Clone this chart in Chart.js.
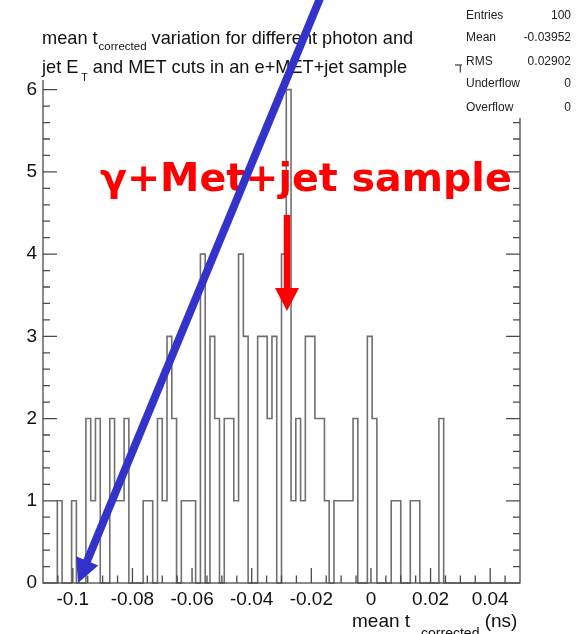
<!DOCTYPE html>
<html>
<head>
<meta charset="utf-8">
<script src="https://cdn.jsdelivr.net/npm/chart.js@4.4.1/dist/chart.umd.min.js"></script>
<style>
  html, body { margin: 0; padding: 0; background: #fff; }
  canvas { display: block; }
</style>
</head>
<body>
<canvas id="hist" width="578" height="634"></canvas>
<script>
// histogram binning (100 bins from -0.11 to 0.05)
const xMin = -0.11;
const xMax = 0.05;
const nBins = 100;

// entries per bin left to right
const counts = [
  0, 0, 0, 1, 0, 0, 1, 0, 0, 2,
  1, 2, 0, 0, 2, 1, 1, 2, 0, 0,
  0, 1, 1, 0, 2, 1, 3, 2, 0, 1,
  1, 1, 0, 4, 0, 3, 2, 0, 2, 2,
  1, 4, 3, 0, 0, 3, 3, 2, 3, 0,
  4, 6, 1, 2, 1, 3, 3, 2, 2, 1,
  0, 1, 1, 1, 1, 2, 0, 0, 3, 2,
  0, 0, 0, 1, 1, 0, 0, 1, 1, 0,
  0, 0, 0, 2, 0, 0, 0, 0, 0, 0,
  0, 0, 0, 0, 0, 0, 0, 0, 0, 0,
];

const xTickValues = [-0.1, -0.08, -0.06, -0.04, -0.02, 0, 0.02, 0.04];
const yTickValues = [0, 1, 2, 3, 4, 5, 6];
const yMax = 6.3;

const statLabels = ["Entries", "Mean", "RMS", "Underflow", "Overflow"];
const statValues = ["100", "-0.03952", "0.02902", "0", "0"];

const FONT = '"Liberation Sans", Arial, Helvetica, sans-serif';
const AXIS_COLOR = "#4a4a4a";

// step outline: start at the left edge on zero, one point per bin right edge
const binW = (xMax - xMin) / nBins;
const stepPoints = [{ x: xMin, y: 0 }];
counts.forEach((c, i) => stepPoints.push({ x: xMin + binW * (i + 1), y: c }));
stepPoints.push({ x: xMax, y: 0 });

// text with ROOT-like subscripts: parts = [[text, isSub], ...]
function drawRich(ctx, x, y, parts, size, subSize, subDrop, subGap) {
  parts.forEach(([txt, sub]) => {
    if (sub) x += subGap;
    ctx.font = (sub ? subSize : size) + "px " + FONT;
    ctx.fillText(txt, x, sub ? y + subDrop : y);
    x += ctx.measureText(txt).width;
  });
}

function drawArrow(ctx, x0, y0, x1, y1, w, headLen, headHalf, color) {
  const L = Math.hypot(x1 - x0, y1 - y0);
  const ux = (x1 - x0) / L, uy = (y1 - y0) / L;
  const bx = x1 - ux * headLen, by = y1 - uy * headLen;
  ctx.strokeStyle = color;
  ctx.lineWidth = w;
  ctx.lineCap = "butt";
  ctx.beginPath();
  ctx.moveTo(x0, y0);
  ctx.lineTo(bx + ux, by + uy);
  ctx.stroke();
  ctx.fillStyle = color;
  ctx.beginPath();
  ctx.moveTo(x1, y1);
  ctx.lineTo(bx - uy * headHalf, by + ux * headHalf);
  ctx.lineTo(bx + uy * headHalf, by - ux * headHalf);
  ctx.closePath();
  ctx.fill();
}

// frame with inward ticks on all four sides
const framePlugin = {
  id: "rootFrame",
  afterDatasetsDraw(chart) {
    const { ctx, chartArea: a, scales } = chart;
    const xs = scales.x, ys = scales.y;
    ctx.save();
    ctx.strokeStyle = AXIS_COLOR;
    ctx.lineWidth = 1.3;
    ctx.strokeRect(a.left, a.top, a.right - a.left, a.bottom - a.top);
    ctx.beginPath();
    for (let k = -21; k <= 9; k++) {
      const v = k * 0.005;
      const major = k % 4 === 0;
      const len = major ? 15 : 7.5;
      const px = xs.getPixelForValue(v);
      ctx.moveTo(px, a.bottom); ctx.lineTo(px, a.bottom - len);
      ctx.moveTo(px, a.top); ctx.lineTo(px, a.top + len);
    }
    for (let k = 1; k <= 31; k++) {
      const v = k * 0.2;
      const major = k % 5 === 0;
      const len = major ? 14 : 7;
      const py = ys.getPixelForValue(v);
      ctx.moveTo(a.left, py); ctx.lineTo(a.left + len, py);
      ctx.moveTo(a.right, py); ctx.lineTo(a.right - len, py);
    }
    ctx.stroke();
    ctx.restore();
  },
  afterDraw(chart) {
    const { ctx } = chart;
    ctx.save();

    // title pave
    ctx.fillStyle = "#fff";
    ctx.fillRect(28, 18, 427, 62);
    ctx.fillStyle = "#111";
    ctx.textBaseline = "alphabetic";
    ctx.textAlign = "left";
    drawRich(ctx, 42, 43.5, [["mean t", false], ["corrected", true], [" variation for different photon and", false]], 18.2, 11.5, 6.5, 1);
    drawRich(ctx, 42, 72.5, [["jet E", false], [" T", true], [" and MET cuts in an e+MET+jet sample", false]], 18.2, 10.5, 8, 0);

    // stats box
    ctx.fillStyle = "#fff";
    ctx.fillRect(462, 0, 116, 118);
    ctx.fillStyle = "#222";
    const rowY = [19, 41, 65, 87, 111];
    statLabels.forEach((lab, i) => {
      ctx.font = "12px " + FONT;
      ctx.textAlign = "left";
      ctx.fillText(lab, 466, rowY[i]);
      ctx.textAlign = "right";
      ctx.fillText(statValues[i], 571, rowY[i]);
    });

    // x axis title
    ctx.textAlign = "left";
    ctx.fillStyle = "#111";
    drawRich(ctx, 352, 627, [["mean t", false], ["corrected", true], [" (ns)", false]], 19, 14, 11, 11);

    // red label and arrow
    ctx.fillStyle = "#ff0000";
    const label = "\u03b3+Met+jet sample";
    let fs = 44;
    ctx.font = "bold " + fs + "px \"DejaVu Sans\", sans-serif";
    const w = ctx.measureText(label).width;
    fs = fs * 412 / w;
    ctx.font = "bold " + fs.toFixed(1) + "px \"DejaVu Sans\", sans-serif";
    ctx.fillText(label, 100, 191);
    drawArrow(ctx, 287, 215, 287, 311, 6.5, 23, 12, "#ff0000");

    // blue arrow
    drawArrow(ctx, 321, -4, 78, 583, 8, 24, 12, "#3333cc");
    ctx.restore();
  },
};

new Chart(document.getElementById("hist"), {
  type: "line",
  data: {
    datasets: [
      {
        data: stepPoints,
        stepped: "after",
        borderColor: "#707070",
        borderWidth: 1.6,
        pointRadius: 0,
        fill: false,
        clip: false,
      },
    ],
  },
  options: {
    responsive: false,
    animation: false,
    events: [],
    layout: { padding: { top: 65, right: 58, left: 0, bottom: 0 } },
    plugins: { legend: { display: false }, tooltip: { enabled: false } },
    scales: {
      x: {
        type: "linear",
        min: xMin,
        max: xMax,
        grid: { display: false, drawTicks: false },
        border: { display: false },
        afterBuildTicks: (s) => { s.ticks = xTickValues.map((v) => ({ value: v })); },
        afterFit: (s) => { s.height = 51; },
        ticks: {
          autoSkip: false,
          maxRotation: 0,
          padding: 5,
          color: "#111",
          font: { family: FONT, size: 19 },
          callback: (v) => String(+Number(v).toFixed(3)),
        },
      },
      y: {
        min: 0,
        max: yMax,
        grid: { display: false, drawTicks: false },
        border: { display: false },
        afterBuildTicks: (s) => { s.ticks = yTickValues.map((v) => ({ value: v })); },
        afterFit: (s) => { s.width = 43; },
        ticks: {
          padding: 6,
          color: "#111",
          font: { family: FONT, size: 19 },
          callback: (v) => String(v),
        },
      },
    },
  },
  plugins: [framePlugin],
});
</script>
</body>
</html>
